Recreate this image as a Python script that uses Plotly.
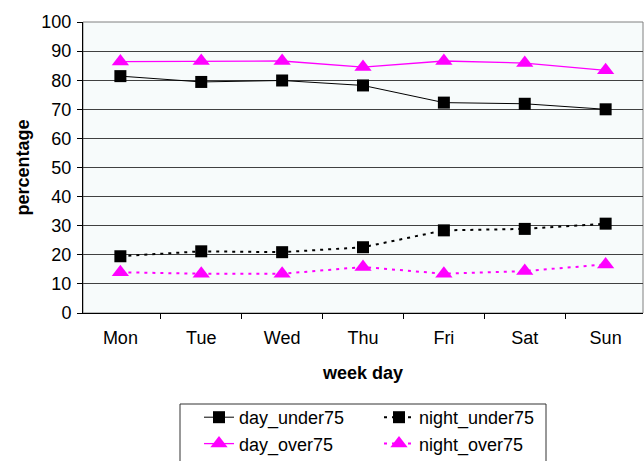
import plotly.graph_objects as go

days = ["Mon", "Tue", "Wed", "Thu", "Fri", "Sat", "Sun"]
day_under75 = [81.4, 79.4, 79.9, 78.2, 72.3, 71.9, 70.0]
night_under75 = [19.5, 21.2, 20.9, 22.6, 28.4, 28.9, 30.7]
day_over75 = [86.4, 86.6, 86.6, 84.5, 86.6, 85.9, 83.4]
night_over75 = [14.0, 13.5, 13.5, 15.8, 13.5, 14.4, 16.7]
y_ticks = list(range(0, 101, 10))

FONT = "Liberation Sans, Arial, Helvetica, sans-serif"
MAG = "#FF00FF"
W, H = 644, 461
L, R, T, B = 83, 1, 22, 148
PW, PH = W - L - R, H - T - B


def px_x(x):
    return (x - L) / PW


def px_y(y):
    return (H - B - y) / PH


fig = go.Figure()
fig.add_trace(go.Scatter(x=days, y=day_under75, name="day_under75", mode="lines+markers",
                         line=dict(color="black", width=1),
                         marker=dict(symbol="square", size=12, color="black"),
                         legend="legend"))
fig.add_trace(go.Scatter(x=days, y=night_under75, name="night_under75", mode="lines+markers",
                         line=dict(color="black", width=2, dash="3px,5px"),
                         marker=dict(symbol="square", size=12, color="black"),
                         legend="legend2"))
fig.add_trace(go.Scatter(x=days, y=day_over75, name="day_over75", mode="lines+markers",
                         line=dict(color=MAG, width=1.3),
                         marker=dict(symbol="triangle-up", size=15, color=MAG),
                         legend="legend"))
fig.add_trace(go.Scatter(x=days, y=night_over75, name="night_over75", mode="lines+markers",
                         line=dict(color=MAG, width=2, dash="3px,5px"),
                         marker=dict(symbol="triangle-up", size=15, color=MAG),
                         legend="legend2"))

leg_common = dict(orientation="v", xref="container", yref="container",
                  y=1 - 399 / H, xanchor="left", yanchor="top",
                  borderwidth=0, bgcolor="rgba(0,0,0,0)",
                  font=dict(family=FONT, size=18, color="black"),
                  traceorder="normal", tracegroupgap=0, itemsizing="trace")

fig.update_layout(
    width=W, height=H,
    margin=dict(l=L, r=R, t=T, b=B, autoexpand=False),
    paper_bgcolor="white",
    plot_bgcolor="#F7FBFB",
    font=dict(family=FONT, size=18, color="black"),
    showlegend=True,
    legend=dict(x=199 / W, **leg_common),
    legend2=dict(x=379 / W, **leg_common),
    shapes=[
        dict(type="rect", xref="paper", yref="paper", x0=0, x1=1, y0=0, y1=1,
             line=dict(color="#808080", width=1), layer="below"),
        dict(type="rect", xref="paper", yref="paper",
             x0=px_x(180), x1=px_x(546), y0=px_y(404), y1=px_y(475),
             line=dict(color="#333333", width=1), layer="above"),
    ],
    annotations=[
        dict(text="<b>percentage</b>", xref="paper", yref="paper",
             x=px_x(22), y=0.5, xanchor="center", yanchor="middle",
             textangle=-90, showarrow=False, font=dict(family=FONT, size=18)),
    ],
)
fig.update_xaxes(
    type="category", categoryorder="array", categoryarray=days,
    showline=True, linecolor="black", linewidth=1,
    ticks="outside", ticklen=5, tickcolor="black", tickson="boundaries",
    showgrid=False, zeroline=False, ticklabelstandoff=8,
    tickfont=dict(family=FONT, size=18),
    title=dict(text="<b>week day</b>", font=dict(family=FONT, size=18), standoff=19),
)
fig.update_yaxes(
    range=[0, 100], tickvals=y_ticks,
    showline=True, linecolor="black", linewidth=1,
    ticks="outside", ticklen=5, tickcolor="black", ticklabelstandoff=2,
    showgrid=True, gridcolor="#404040", gridwidth=1, zeroline=False,
    tickfont=dict(family=FONT, size=18),
)

fig.write_html("out.html")
